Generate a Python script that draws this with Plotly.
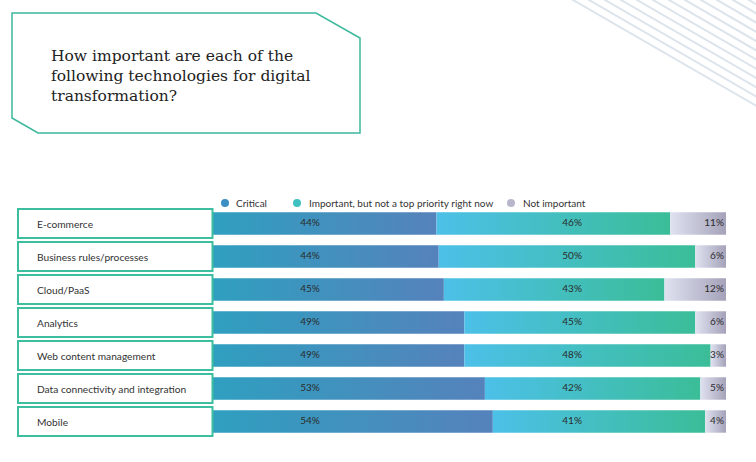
import math
import plotly.graph_objects as go

categories = ["E-commerce", "Business rules/processes", "Cloud/PaaS", "Analytics",
              "Web content management", "Data connectivity and integration", "Mobile"]
critical = [44, 44, 45, 49, 49, 53, 54]
important = [46, 50, 43, 45, 48, 42, 41]
not_important = [11, 6, 12, 6, 3, 5, 4]
series_names = ["Critical", "Important, but not a top priority right now", "Not important"]
title_text = "How important are each of the<br>following technologies for digital<br>transformation?"

W, H = 756, 462
ML, MR, MT, MB = 213, 30, 207, 24
PW, PH = W - ML - MR, H - MT - MB

def px(x):
    return (x - ML) / PW

def py(y):
    return (H - MB - y) / PH

grads = [
    [[0, "#2f9fc0"], [1, "#5582bb"]],
    [[0, "#4cc0e8"], [1, "#3bbd98"]],
    [[0, "#dfe2f1"], [1, "#a5a2b9"]],
]
legend_cols = ["#3b8fc4", "#3fc1bf", "#b8b6cb"]

fig = go.Figure()
HALF = 0.34
for i, cat in enumerate(categories):
    vals = [critical[i], important[i], not_important[i]]
    tot = sum(vals)
    start = 0.0
    for s, v in enumerate(vals):
        w = v / tot * 100
        x0, x1 = start, start + w
        fig.add_trace(go.Scatter(
            x=[x0, x1, x1, x0, x0], y=[i - HALF, i - HALF, i + HALF, i + HALF, i - HALF],
            mode="lines", line=dict(width=0), fill="toself",
            fillgradient=dict(type="horizontal", colorscale=grads[s]),
            hoverinfo="skip", showlegend=False))
        start = x1

ys = list(range(len(categories)))
lab_font = dict(family="Lato, sans-serif", size=10, color="#2b2b2b")
fig.add_trace(go.Scatter(x=[18.9] * len(ys), y=ys, mode="text",
                         text=[f"{v}%" for v in critical], textfont=lab_font,
                         textposition="middle center", showlegend=False, hoverinfo="skip"))
fig.add_trace(go.Scatter(x=[70.0] * len(ys), y=ys, mode="text",
                         text=[f"{v}%" for v in important], textfont=lab_font,
                         textposition="middle center", showlegend=False, hoverinfo="skip"))
fig.add_trace(go.Scatter(x=[99.6] * len(ys), y=ys, mode="text",
                         text=[f"{v}%" for v in not_important], textfont=lab_font,
                         textposition="middle left", showlegend=False, hoverinfo="skip"))

shapes = []
annotations = []
# category boxes
for i, cat in enumerate(categories):
    shapes.append(dict(type="rect", xref="paper", yref="y", x0=px(18), x1=px(212.5),
                       y0=i - 0.44, y1=i + 0.44, line=dict(color="#3dbf9f", width=2),
                       fillcolor="white", layer="above"))
    annotations.append(dict(xref="paper", yref="y", x=px(34.5), y=i, text=cat, showarrow=False,
                            xanchor="left", yanchor="middle",
                            font=dict(family="Lato, sans-serif", size=10.2, color="#333333")))

# legend
leg_items = [(225, 234), (297, 307), (511, 521)]
for (cx, tx), name, col in zip(leg_items, series_names, legend_cols):
    shapes.append(dict(type="circle", xref="paper", yref="paper",
                       x0=px(cx - 4), x1=px(cx + 4), y0=py(203 + 4), y1=py(203 - 4),
                       line=dict(width=0), fillcolor=col))
    annotations.append(dict(xref="paper", yref="paper", x=px(tx), y=py(203), text=name,
                            showarrow=False, xanchor="left", yanchor="middle",
                            font=dict(family="Lato, sans-serif", size=10, color="#333333")))

# title box
pts = [(12, 13), (316, 13), (360, 38), (360, 133), (38, 133), (12, 118)]
path = "M " + " L ".join(f"{px(x)},{py(y)}" for x, y in pts) + " Z"
shapes.append(dict(type="path", xref="paper", yref="paper", path=path,
                   line=dict(color="#3cb89d", width=1.5), fillcolor="rgba(0,0,0,0)"))
annotations.append(dict(xref="paper", yref="paper", x=px(48.5), y=py(45), text=title_text,
                        showarrow=False, xanchor="left", yanchor="top", align="left",
                        font=dict(family="DejaVu Serif, serif", size=15.5, color="#222222")))

# decorative stripes
slope = math.tan(math.radians(30))
for k in range(14):
    x0 = 573 + 16 * k
    shapes.append(dict(type="line", xref="paper", yref="paper",
                       x0=px(x0 - 20), y0=py(-20 * slope), x1=px(x0 + 260), y1=py(260 * slope),
                       line=dict(color="#dde4ec", width=2), layer="below"))

fig.update_layout(
    width=W, height=H, margin=dict(l=ML, r=MR, t=MT, b=MB),
    paper_bgcolor="white", plot_bgcolor="white",
    xaxis=dict(range=[0, 100], visible=False, fixedrange=True),
    yaxis=dict(range=[len(categories) - 0.5, -0.5], visible=False, fixedrange=True),
    shapes=shapes, annotations=annotations, showlegend=False,
)

fig.write_html("out.html", config={"displayModeBar": False},
               post_script="document.body.style.margin='0';document.body.style.overflow='hidden';")
